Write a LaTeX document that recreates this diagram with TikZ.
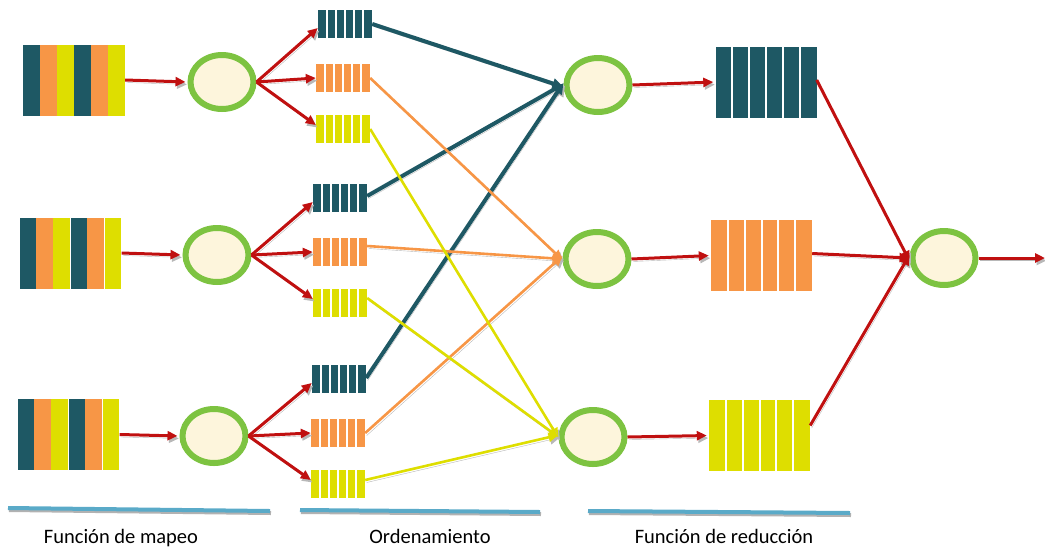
\documentclass[tikz,border=0pt]{standalone}
\usepackage{fontspec}
\setmainfont{Carlito}
\usetikzlibrary{shapes.geometric,calc,arrows.meta}

\definecolor{cTeal}{RGB}{30,88,100}
\definecolor{cOrange}{RGB}{247,150,70}
\definecolor{cYellow}{RGB}{222,222,0}
\definecolor{cRed}{RGB}{192,16,16}
\definecolor{cGreen}{RGB}{125,195,65}
\definecolor{cCream}{RGB}{253,245,220}
\definecolor{cRule}{RGB}{90,170,200}

\tikzset{
  shd/.style={preaction={draw=black!28, transform canvas={shift={(1.5pt,-2.5pt)}}}},
  proc/.style={ellipse, draw=cGreen, line width=6pt, fill=cCream,
    minimum width=63pt, minimum height=54pt, inner sep=0pt},
  cells/.style={rectangle, fill=#1, inner sep=0pt,
    path picture={
      \foreach \i in {1,...,5}
        \draw[white, line width=2pt]
          ($(path picture bounding box.south west)!\i/6!(path picture bounding box.south east)$) --
          ($(path picture bounding box.north west)!\i/6!(path picture bounding box.north east)$);
    }},
  queue/.style={cells=#1, minimum width=54pt, minimum height=28pt},
  bucket/.style={cells=#1, minimum width=101pt, minimum height=71pt},
  stripes/.style={rectangle, inner sep=0pt, minimum width=102pt, minimum height=71pt,
    path picture={
      \foreach \c [count=\i from 0] in {cTeal,cOrange,cYellow,cTeal,cOrange,cYellow}
        \fill[\c]
          ($(path picture bounding box.south west)!\i/6!(path picture bounding box.south east)$) rectangle
          ($(path picture bounding box.north west)!\i/6+1/6!(path picture bounding box.north east)$);
    }},
  redarrow/.style={draw=cRed, line width=3pt, -{Triangle[length=10pt,width=9pt]}, shd},
  flow/.style={draw=#1, line width=2.6pt, -{Triangle[length=10pt,width=9pt]}, shd},
  tealflow/.style={draw=cTeal, line width=4pt, -{Triangle[length=11pt,width=10pt]}, shd},
  rule/.style={draw=cRule, line width=4pt, preaction={draw=black!30, line width=4pt, transform canvas={shift={(1pt,-2pt)}}}},
  caption/.style={font=\fontsize{20.5}{24}\selectfont, inner sep=0pt, anchor=base}
}

\begin{document}
\begin{tikzpicture}[x=1pt, y=-1pt]
\useasboundingbox (0,0) rectangle (1045,550);

% input splits
\node[stripes] (in1) at (74,80) {};
\node[stripes] (in2) at (70.5,253) {};
\node[stripes] (in3) at (68.5,434.5) {};

% map functions
\node[proc] (m1) at (222,82) {};
\node[proc] (m2) at (217,255) {};
\node[proc] (m3) at (214,436) {};

% sorted partitions
\node[queue=cTeal]   (q1a) at (345,24)  {};
\node[queue=cOrange] (q1b) at (343,78)  {};
\node[queue=cYellow] (q1c) at (343,129) {};
\node[queue=cTeal]   (q2a) at (340,198) {};
\node[queue=cOrange] (q2b) at (340,252) {};
\node[queue=cYellow] (q2c) at (340,303) {};
\node[queue=cTeal]   (q3a) at (339,379) {};
\node[queue=cOrange] (q3b) at (338,433) {};
\node[queue=cYellow] (q3c) at (338,484) {};

% reduce functions
\node[proc] (r1) at (598,85)  {};
\node[proc] (r2) at (597,259) {};
\node[proc] (r3) at (593,437) {};

% reduced outputs
\node[bucket=cTeal]   (b1) at (766,82)      {};
\node[bucket=cOrange] (b2) at (761.5,255.5) {};
\node[bucket=cYellow] (b3) at (759.5,435.5) {};

% final merge
\node[proc] (f) at (944,258) {};
\coordinate (out) at (1045,258);

% input -> map
\draw[redarrow, shorten >=2pt] (in1.east) -- (m1.west);
\draw[redarrow, shorten >=2pt] (in2.east) -- (m2.west);
\draw[redarrow, shorten >=2pt] (in3.east) -- (m3.west);

% map -> partitions
\foreach \m/\r in {m1/q1, m2/q2, m3/q3} {
  \draw[redarrow] (\m.east) -- ([yshift=-4pt]\r a.west);
  \draw[redarrow] (\m.east) -- (\r b.west);
  \draw[redarrow] (\m.east) -- ([yshift=4pt]\r c.west);
}

% shuffle: each key to its reducer
\draw[tealflow] (q1a.east) -- ([yshift=-2pt]r1.west);
\draw[tealflow] ([yshift=2pt]q2a.east) -- ([yshift=1pt]r1.west);
\draw[tealflow] ([yshift=1pt]q3a.east) -- ([yshift=2pt]r1.west);

\draw[flow=cOrange] (q1b.east) -- ([yshift=-1pt]r2.west);
\draw[flow=cOrange] ([yshift=6pt]q2b.east) -- (r2.west);
\draw[flow=cOrange] (q3b.east) -- ([yshift=3pt]r2.west);

\draw[flow=cYellow] (q1c.east) -- ([yshift=-1pt]r3.west);
\draw[flow=cYellow] ([yshift=5pt]q2c.east) -- (r3.west);
\draw[flow=cYellow] ([yshift=4pt]q3c.east) -- ([yshift=2pt]r3.west);

% reduce -> outputs
\draw[redarrow, shorten >=2pt] (r1.east) -- (b1.west);
\draw[redarrow, shorten >=2pt] (r2.east) -- (b2.west);
\draw[redarrow, shorten >=2pt] (r3.east) -- (b3.west);

% outputs -> final
\draw[redarrow] ([yshift=2pt]b1.east) -- ([yshift=-3pt]f.west);
\draw[redarrow] ([yshift=2pt]b2.east) -- (f.west);
\draw[redarrow] ([yshift=10pt]b3.east) -- ([yshift=3pt]f.west);
\draw[redarrow] (f.east) -- (out);

% stage rules and captions
\draw[rule] (8,508) -- (270,511);
\draw[rule] (300,510) -- (540,512);
\draw[rule] (588,511) -- (850,513);

\node[caption] (c1) at (121,543) {Función de mapeo};
\node[caption] (c2) at (430,543) {Ordenamiento};
\node[caption] (c3) at (724,543) {Función de reducción};
\end{tikzpicture}
\end{document}
